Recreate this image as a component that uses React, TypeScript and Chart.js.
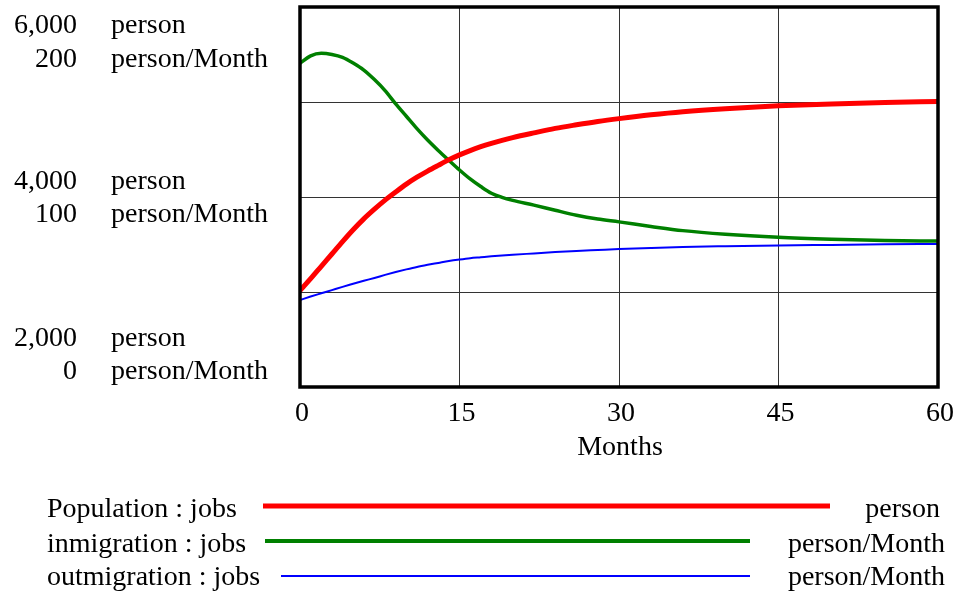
import React, { useEffect, useRef } from "react";
import { Chart, registerables } from "chart.js";

Chart.register(...registerables);

// ---- data ----
const months = [0, 1, 2, 3, 4, 5, 6, 7, 8, 9, 10, 11, 12, 13, 14, 15, 16, 17, 18, 19, 20, 22, 24, 26, 28, 30, 33, 36, 40, 45, 50, 55, 60];
const population = [3015, 3140, 3270, 3400, 3530, 3655, 3770, 3872, 3967, 4053, 4135, 4208, 4273, 4333, 4391, 4443, 4489, 4529, 4564, 4596, 4625, 4675, 4722, 4760, 4795, 4825, 4865, 4898, 4930, 4960, 4980, 4995, 5005];
const inmigration = [170.4, 174.3, 175.6, 175.0, 173.5, 170.5, 166.8, 161.8, 156.0, 149.0, 142.5, 136.0, 130.0, 124.5, 119.3, 114.2, 109.5, 105.5, 102.0, 99.8, 98.2, 95.7, 93.0, 90.4, 88.4, 86.9, 84.5, 82.3, 80.4, 78.8, 77.8, 77.1, 76.8];
const outmigration = [45.8, 47.6, 49.3, 51.0, 52.7, 54.3, 55.9, 57.4, 59.0, 60.5, 61.9, 63.2, 64.3, 65.3, 66.3, 67.1, 67.8, 68.3, 68.8, 69.2, 69.6, 70.3, 71.0, 71.6, 72.1, 72.6, 73.2, 73.7, 74.1, 74.5, 74.8, 75.1, 75.3];

const xTickValues = [0, 15, 30, 45, 60];
const xAxisTitle = "Months";
const popTicks = [6000, 4000, 2000];
const popTickLabels = ["6,000", "4,000", "2,000"];
const flowTickLabels = ["200", "100", "0"];
const popUnit = "person";
const flowUnit = "person/Month";

const seriesNames = ["Population : jobs", "inmigration : jobs", "outmigration : jobs"];
const seriesUnits = ["person", "person/Month", "person/Month"];
const seriesColors = ["#ff0000", "#008000", "#0000ff"];

const FONT = '28px "Liberation Serif", "Times New Roman", serif';

const pts = (ys: number[]) => months.map((m, i) => ({ x: m, y: ys[i] }));

const overlayPlugin = {
  id: "vensimOverlay",
  afterDraw(chart: any) {
    const ctx = chart.ctx;
    const area = chart.chartArea;
    const xs = chart.scales.x;
    const yp = chart.scales.yPop;
    ctx.save();
    // frame
    ctx.strokeStyle = "#000";
    ctx.lineWidth = 3.5;
    ctx.strokeRect(area.left, area.top, area.right - area.left, area.bottom - area.top);

    ctx.fillStyle = "#000";
    ctx.font = FONT;
    ctx.textBaseline = "alphabetic";

    // left axis labels
    const numRight = 77;
    const unitLeft = 111;
    popTicks.forEach((v, i) => {
      const py = yp.getPixelForValue(v);
      let b1: number, b2: number;
      if (i === 0) { b1 = py + 26; b2 = py + 60; }
      else if (i === popTicks.length - 1) { b1 = py - 41; b2 = py - 8; }
      else { b1 = py - 8; b2 = py + 25; }
      ctx.textAlign = "right";
      ctx.fillText(popTickLabels[i], numRight, b1);
      ctx.fillText(flowTickLabels[i], numRight, b2);
      ctx.textAlign = "left";
      ctx.fillText(popUnit, unitLeft, b1);
      ctx.fillText(flowUnit, unitLeft, b2);
    });

    // x tick labels
    ctx.textAlign = "center";
    xTickValues.forEach((v) => {
      ctx.fillText(String(v), xs.getPixelForValue(v) + 2, area.bottom + 34);
    });
    ctx.fillText(xAxisTitle, (area.left + area.right) / 2 + 1, area.bottom + 68);

    // legend
    const rows = [
      { base: 517, line: 506, x1: 263, x2: 830, w: 5, right: 940 },
      { base: 552, line: 541, x1: 265, x2: 750, w: 4, right: 945 },
      { base: 585, line: 576, x1: 281, x2: 750, w: 2, right: 945 },
    ];
    rows.forEach((r, i) => {
      ctx.textAlign = "left";
      ctx.fillStyle = "#000";
      ctx.fillText(seriesNames[i], 47, r.base);
      ctx.textAlign = "right";
      ctx.fillText(seriesUnits[i], r.right, r.base);
      ctx.strokeStyle = seriesColors[i];
      ctx.lineWidth = r.w;
      ctx.beginPath();
      ctx.moveTo(r.x1, r.line);
      ctx.lineTo(r.x2, r.line);
      ctx.stroke();
    });
    ctx.restore();
  },
};

export default function App() {
  const ref = useRef<HTMLCanvasElement | null>(null);
  useEffect(() => {
    if (!ref.current) return;
    const chart = new Chart(ref.current, {
      type: "line",
      data: {
        datasets: [
          { label: seriesNames[0], data: pts(population), yAxisID: "yPop", borderColor: seriesColors[0], borderWidth: 5, pointRadius: 0, cubicInterpolationMode: "monotone", fill: false },
          { label: seriesNames[1], data: pts(inmigration), yAxisID: "yFlow", borderColor: seriesColors[1], borderWidth: 3.5, pointRadius: 0, cubicInterpolationMode: "monotone", fill: false },
          { label: seriesNames[2], data: pts(outmigration), yAxisID: "yFlow", borderColor: seriesColors[2], borderWidth: 2, pointRadius: 0, cubicInterpolationMode: "monotone", fill: false },
        ],
      },
      options: {
        responsive: false,
        animation: false,
        events: [],
        layout: { padding: { left: 300, right: 23, top: 7, bottom: 207 } },
        plugins: { legend: { display: false }, tooltip: { enabled: false }, title: { display: false } },
        scales: {
          x: {
            type: "linear",
            min: 0,
            max: 60,
            afterBuildTicks: (s: any) => { s.ticks = xTickValues.map((v) => ({ value: v })); },
            ticks: { display: false },
            grid: { color: "#333", lineWidth: 1, drawTicks: false, tickLength: 0 },
            border: { display: false },
          },
          yPop: {
            type: "linear",
            position: "left",
            min: 2000,
            max: 6000,
            ticks: { display: false, stepSize: 1000 },
            grid: { color: "#333", lineWidth: 1, drawTicks: false, tickLength: 0 },
            border: { display: false },
          },
          yFlow: {
            type: "linear",
            position: "left",
            min: 0,
            max: 200,
            display: false,
          },
        },
      },
      plugins: [overlayPlugin],
    } as any);
    return () => chart.destroy();
  }, []);
  return (
    <div style={{ position: "absolute", left: 0, top: 0, width: 961, height: 594, background: "#fff" }}>
      <canvas ref={ref} width={961} height={594} style={{ display: "block" }} />
    </div>
  );
}
